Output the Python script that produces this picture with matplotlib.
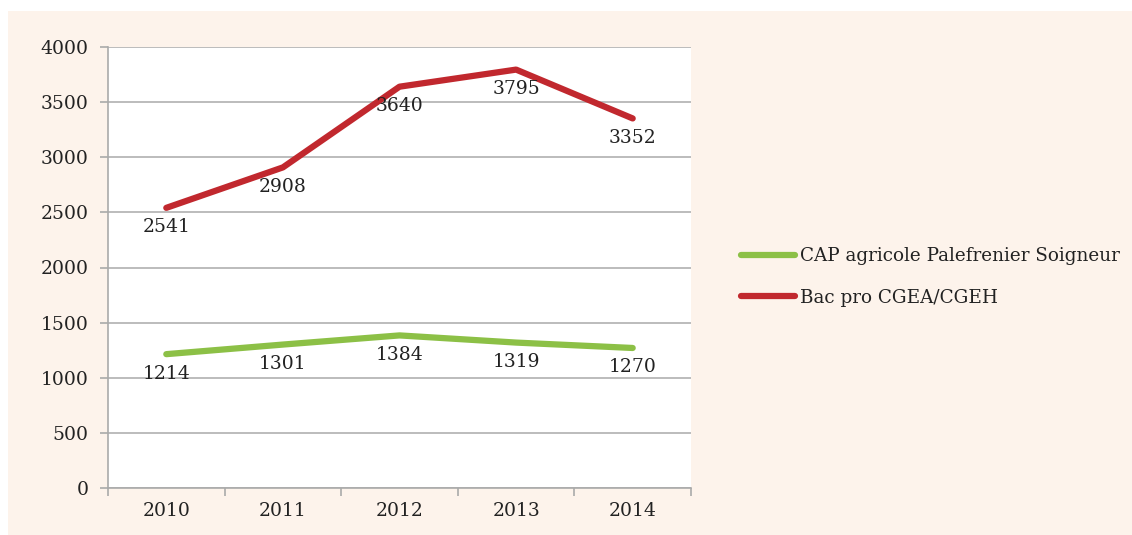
import matplotlib
matplotlib.use("Agg")
import matplotlib.pyplot as plt
from matplotlib.patches import Rectangle

years = ["2010", "2011", "2012", "2013", "2014"]
cap_values = [1214, 1301, 1384, 1319, 1270]
bac_values = [2541, 2908, 3640, 3795, 3352]
series_names = ["CAP agricole Palefrenier Soigneur", "Bac pro CGEA/CGEH"]
y_ticks = [0, 500, 1000, 1500, 2000, 2500, 3000, 3500, 4000]

plt.rcParams['font.family'] = ['DejaVu Serif', 'Liberation Serif']
W, H = 1132, 535
fig = plt.figure(figsize=(W/100, H/100), dpi=100)
fig.patch.set_facecolor('white')
fig.patches.append(Rectangle((8/W, 0), 1 - 8/W, 1 - 11/H, transform=fig.transFigure,
                             facecolor='#fdf3eb', edgecolor='none', zorder=-10))

ax = fig.add_axes([108/W, 1 - 488/H, (691-108)/W, (488-47)/H])
ax.set_facecolor('white')
green = '#8cc046'
red = '#c1282e'
text_color = '#222222'
fs = 13.5
x = list(range(len(years)))
ax.plot(x, cap_values, color=green, lw=4.5, solid_capstyle='round', label=series_names[0], zorder=3)
ax.plot(x, bac_values, color=red, lw=4.5, solid_capstyle='round', label=series_names[1], zorder=3)

for vals in (cap_values, bac_values):
    for xi, v in zip(x, vals):
        ax.annotate(str(v), (xi, v), xytext=(0, -14), textcoords='offset points',
                    ha='center', va='center', fontsize=fs, color=text_color, zorder=4)

ax.set_xlim(-0.5, len(years) - 0.5)
ax.set_ylim(0, 4000)
ax.set_yticks(y_ticks)
ax.set_yticklabels([str(t) for t in y_ticks], fontsize=fs, color=text_color)
ax.set_xticks(x)
ax.set_xticklabels(years, fontsize=fs, color=text_color)
ax.set_xticks([i - 0.5 for i in range(len(years) + 1)], minor=True)
ax.tick_params(axis='x', which='major', length=0, pad=10)
ax.tick_params(axis='x', which='minor', length=6, color='#aaaaaa', width=1.2)
ax.tick_params(axis='y', length=6, color='#aaaaaa', width=1.2, pad=8)
ax.yaxis.grid(True, color='#b0b0b0', lw=1.2)
ax.set_axisbelow(True)
for s in ['top', 'right']:
    ax.spines[s].set_visible(False)
for s in ['left', 'bottom']:
    ax.spines[s].set_color('#aaaaaa')
    ax.spines[s].set_linewidth(1.2)

leg = fig.legend(loc='center left', bbox_to_anchor=(724/W, 1 - 277/H), frameon=False,
                 fontsize=13.2, handlelength=2.95, handletextpad=0.3, labelspacing=1.3,
                 labelcolor=text_color)

fig.savefig('out.png', dpi=100, facecolor=fig.get_facecolor())
